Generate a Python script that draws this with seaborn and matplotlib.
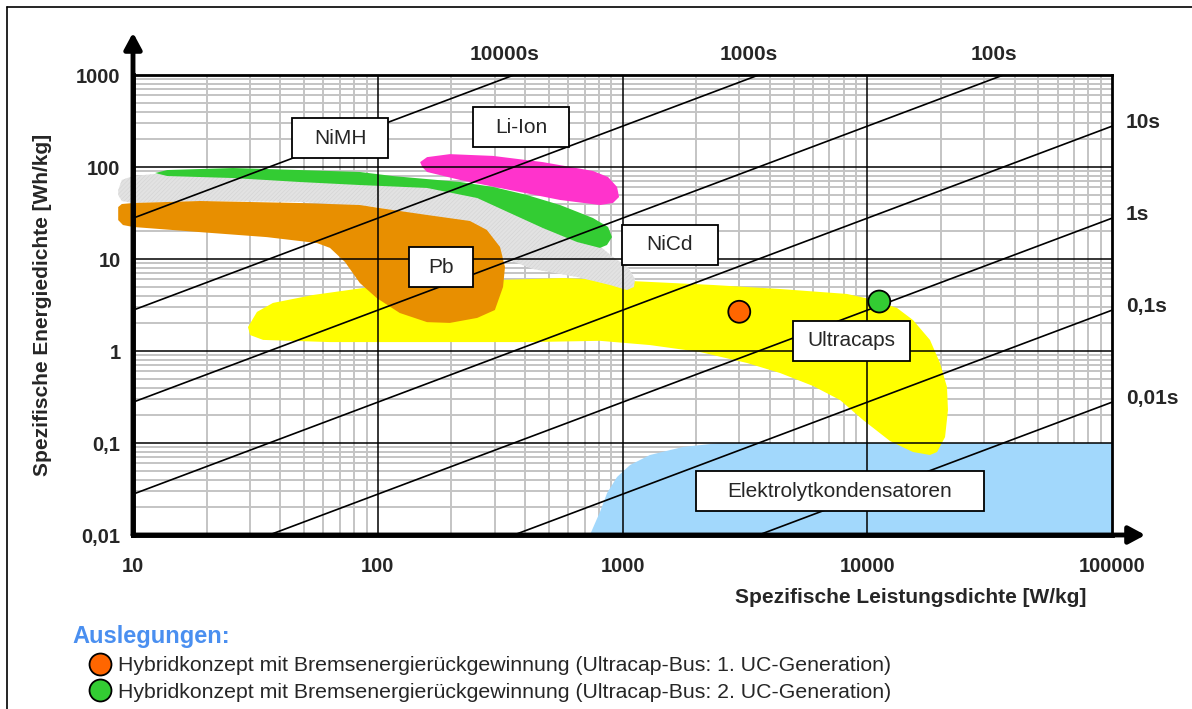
import numpy as np
import pandas as pd
import matplotlib
matplotlib.use("Agg")
import matplotlib.pyplot as plt
from matplotlib.path import Path
from matplotlib.lines import Line2D
from matplotlib.ticker import LogLocator, NullFormatter
import seaborn as sns

# ---------------------------------------------------------------------------
# Ragone diagram: specific power [W/kg] vs. specific energy [Wh/kg]
# ---------------------------------------------------------------------------

# Axis decades
x_ticks = [10, 100, 1000, 10000, 100000]
x_tick_labels = ["10", "100", "1000", "10000", "100000"]
y_ticks = [0.01, 0.1, 1, 10, 100, 1000]
y_tick_labels = ["0,01", "0,1", "1", "10", "100", "1000"]

# Lines of constant discharge time t = 3600 * E / P  [s]
discharge_times = [10000, 1000, 100, 10, 1, 0.1, 0.01]
discharge_labels = ["10000s", "1000s", "100s", "10s", "1s", "0,1s", "0,01s"]

# Technology regions, outline as (power density, energy density)
li_ion_p = [149, 159, 197, 296, 473, 757, 873, 950, 968, 914, 809, 556, 347, 217, 159, 152]
li_ion_e = [113, 128, 138, 132, 113, 90.6, 77.8, 60.7, 47.2, 40.6, 38.6, 43.8, 56.2, 72.3, 88.3, 100]

nimh_p = [12.3, 13.8, 25.6, 48, 84.5, 115, 217, 296, 407, 556, 757, 873, 906, 864,
          809, 652, 473, 347, 255, 159, 84.5, 48, 25.6, 13.8]
nimh_e = [86, 92.7, 97.5, 92.7, 88.3, 79.8, 68.7, 60.7, 49.6, 38.6, 27.9, 22.3, 17.3, 14.2,
          13.2, 15.3, 21.7, 31.6, 46, 59.2, 63.7, 68.7, 75.9, 79.8]

nicd_p = [8.7, 9.0, 10, 12.3, 25.6, 48, 84.5, 159, 255, 347, 473, 652, 809, 914, 1052, 1125,
          1114, 1042, 889, 652, 431, 325, 262, 197, 123, 99, 48, 18.8, 10, 9.0, 8.7]
nicd_e = [56.2, 72.3, 79.8, 84, 81.8, 75.9, 68.7, 63.7, 49.6, 34.1, 23.4, 16.5, 13.8, 10.5, 8.18, 6.07,
          4.97, 4.6, 5.22, 6.37, 7.78, 10.3, 14.2, 23.4, 32.4, 36.7, 41.7, 42.7, 40.6, 42.7, 49.6]

pb_p = [8.7, 9.0, 10, 18.8, 48, 84.5, 115, 159, 238, 279, 316, 331, 325, 301, 255, 197,
        159, 123, 99, 84.5, 73.5, 63.8, 56.5, 35.2, 18.8, 10, 9.1, 8.7]
pb_e = [36.7, 39.6, 40.6, 42.7, 40.6, 38.6, 34.1, 30.1, 25.9, 20.7, 13.5, 8.18, 4.97, 2.79, 2.29, 2.02,
        2.06, 2.59, 3.77, 5.48, 9.27, 13.2, 14.9, 17.3, 19.6, 22.3, 23.4, 26.5]

ucap_p = [29.5, 32.1, 37.3, 54.3, 87.1, 163, 307, 571, 1074, 2344, 4400, 8260, 10260, 13240,
          15380, 18040, 19820, 21170, 21370, 20790, 19280, 18040, 15380, 12390, 9610, 7740,
          6000, 4400, 3225, 2074, 1295, 809, 419, 163, 63.8, 34, 30.1]
ucap_e = [1.82, 2.66, 3.33, 4.06, 4.84, 5.48, 5.91, 6.21, 5.77, 5.22, 4.72, 4.17, 3.67, 2.93,
          2.17, 1.32, 0.741, 0.406, 0.228, 0.116, 0.0798, 0.0741, 0.0798, 0.105, 0.178, 0.293,
          0.417, 0.577, 0.741, 0.975, 1.16, 1.29, 1.25, 1.25, 1.25, 1.32, 1.49]

elko_p = [736, 757, 809, 865, 950, 1074, 1295, 1766, 2500, 3650, 100000, 100000]
elko_e = [0.01, 0.0119, 0.0178, 0.0286, 0.0427, 0.0577, 0.0741, 0.0906, 0.1, 0.1, 0.1, 0.01]

# Region captions: (text, power, energy)
region_names = ["NiMH", "Li-Ion", "NiCd", "Pb", "Ultracaps", "Elektrolytkondensatoren"]
region_label_p = [70.2, 385, 1563, 181, 8590, 7740]
region_label_e = [206, 272, 14.2, 8.18, 1.29, 0.030]

# Design points
concept_labels = [
    "Hybridkonzept mit Bremsenergierückgewinnung (Ultracap-Bus: 1. UC-Generation)",
    "Hybridkonzept mit Bremsenergierückgewinnung (Ultracap-Bus: 2. UC-Generation)",
]
concept_p = [3000, 11200]
concept_e = [2.67, 3.45]

# ---------------------------------------------------------------------------
sns.set_theme(style="white")
plt.rcParams["font.family"] = ["Liberation Sans", "DejaVu Sans"]
plt.rcParams["hatch.linewidth"] = 0.4


class FixedBox:
    """Rectangular text frame of fixed size (in units of the font size)."""

    def __init__(self, width, height):
        self.width = width
        self.height = height

    def __call__(self, x0, y0, width, height, mutation_size):
        cx = x0 + width / 2
        cy = y0 + height / 2
        w = self.width * mutation_size / 2
        h = self.height * mutation_size / 2
        verts = [(cx - w, cy - h), (cx + w, cy - h), (cx + w, cy + h),
                 (cx - w, cy + h), (cx - w, cy - h)]
        return Path(verts, closed=True)


fig = plt.figure(figsize=(11.92, 7.09), dpi=100)
ax = fig.add_axes([0.11158, 0.24541, 0.82131, 0.64880])
ax.set_xscale("log")
ax.set_yscale("log")
ax.set_xlim(x_ticks[0], x_ticks[-1])
ax.set_ylim(y_ticks[0], y_ticks[-1])
ax.set_facecolor("white")

# fine grid (behind the regions)
for axis in (ax.xaxis, ax.yaxis):
    axis.set_minor_locator(LogLocator(base=10, subs=np.arange(2, 10), numticks=20))
    axis.set_minor_formatter(NullFormatter())
ax.set_axisbelow(True)
ax.grid(which="minor", color="#c4c4c4", lw=1.4)
ax.grid(which="major", visible=False)

# decade lines (in front of the regions)
for v in x_ticks[1:-1]:
    ax.axvline(v, color="black", lw=1.1, zorder=2)
for v in y_ticks[1:-1]:
    ax.axhline(v, color="black", lw=1.1, zorder=2)

# regions
ax.fill(elko_p, elko_e, color="#a2d8fc", lw=0, zorder=1.0)
ax.fill(ucap_p, ucap_e, color="#ffff00", lw=0, zorder=1.1)
ax.fill(nicd_p, nicd_e, facecolor="#e2e2e2", edgecolor="#d3d3d3", hatch="////////",
        lw=0, zorder=1.2, clip_on=False)
ax.fill(nimh_p, nimh_e, color="#33cc33", lw=0, zorder=1.3)
ax.fill(li_ion_p, li_ion_e, color="#ff33cc", lw=0, zorder=1.3)
ax.fill(pb_p, pb_e, color="#e88f00", lw=0, zorder=1.4, clip_on=False)

# constant discharge-time lines
p_min, p_max = x_ticks[0], x_ticks[-1]
e_min, e_max = y_ticks[0], y_ticks[-1]
for t, lab in zip(discharge_times, discharge_labels):
    p0 = max(p_min, 3600 * e_min / t)
    p1 = min(p_max, 3600 * e_max / t)
    ax.plot([p0, p1], [p0 * t / 3600, p1 * t / 3600], color="black", lw=1.2, zorder=3)
    if p1 < p_max:
        ax.annotate(lab, xy=(p1, e_max), xytext=(-7, 15), textcoords="offset points",
                    ha="center", va="center", fontsize=15, fontweight="bold",
                    annotation_clip=False)
    else:
        ax.annotate(lab, xy=(p1, p1 * t / 3600), xytext=(10, 3), textcoords="offset points",
                    ha="left", va="center", fontsize=15, fontweight="bold",
                    annotation_clip=False)

# region captions
box_width = {"NiMH": 4.61, "Li-Ion": 4.61, "NiCd": 4.61, "Pb": 3.07,
             "Ultracaps": 5.62, "Elektrolytkondensatoren": 13.78}
for name, p, e in zip(region_names, region_label_p, region_label_e):
    ax.text(p, e, name, ha="center", va="center", fontsize=15, zorder=4,
            bbox=dict(boxstyle=FixedBox(box_width[name], 1.92), fc="white",
                      ec="black", lw=1.3))

# design points
df = pd.DataFrame({"P": concept_p, "E": concept_e, "Konzept": concept_labels})
sns.scatterplot(data=df, x="P", y="E", hue="Konzept", palette=["#ff6600", "#33cc33"],
                s=250, edgecolor="black", linewidth=1.3, zorder=6, ax=ax, clip_on=False)
leg = ax.get_legend()
handles = leg.legend_handles
labels = [txt.get_text() for txt in leg.texts]
leg.remove()
fig.legend(handles, labels, loc="upper left", bbox_to_anchor=(88 / 1192, 1 - 656 / 709),
           frameon=False, fontsize=15.3, handlelength=1.1, handletextpad=0.3,
           borderpad=0, borderaxespad=0, labelspacing=0.36)
fig.text(72 / 1192, 1 - 636 / 709, "Auslegungen:", color="#4a8ff0", fontsize=17,
         fontweight="bold", ha="left", va="center")

# ticks and axis labels
ax.set_xticks(x_ticks, labels=x_tick_labels)
ax.set_yticks(y_ticks, labels=y_tick_labels)
ax.tick_params(axis="both", which="both", length=0)
ax.tick_params(axis="x", pad=16, labelsize=14.5)
ax.tick_params(axis="y", pad=9, labelsize=14.5)
for lbl in ax.get_xticklabels() + ax.get_yticklabels():
    lbl.set_fontweight("bold")
ax.set_xlabel("Spezifische Leistungsdichte [W/kg]", fontsize=15, fontweight="bold")
ax.set_ylabel("Spezifische Energiedichte [Wh/kg]", fontsize=15, fontweight="bold")
ax.xaxis.set_label_coords(0.794, -0.115)
ax.yaxis.set_label_coords(-0.083, 0.5)

# frame and axis arrows
for side in ("top", "right"):
    ax.spines[side].set_linewidth(2)
    ax.spines[side].set_color("black")
for side in ("left", "bottom"):
    ax.spines[side].set_linewidth(3.5)
    ax.spines[side].set_color("black")
for spine in ax.spines.values():
    spine.set_zorder(5)

arrow = dict(arrowstyle="-|>,head_length=0.65,head_width=0.35", lw=3.5, color="black",
             mutation_scale=15, shrinkA=0, shrinkB=0)
ax.annotate("", xy=(0, 1.092), xytext=(0, 0), xycoords="axes fraction",
            textcoords="axes fraction", arrowprops=arrow, annotation_clip=False)
ax.annotate("", xy=(1.034, 0), xytext=(0, 0), xycoords="axes fraction",
            textcoords="axes fraction", arrowprops=arrow, annotation_clip=False)

# outer frame
fig.add_artist(Line2D([7 / 1192, 7 / 1192], [0, 1 - 7 / 709], color="black", lw=1.2,
                      transform=fig.transFigure))
fig.add_artist(Line2D([7 / 1192, 1], [1 - 7 / 709, 1 - 7 / 709], color="black", lw=1.2,
                      transform=fig.transFigure))

fig.savefig("out.png", dpi=100)
